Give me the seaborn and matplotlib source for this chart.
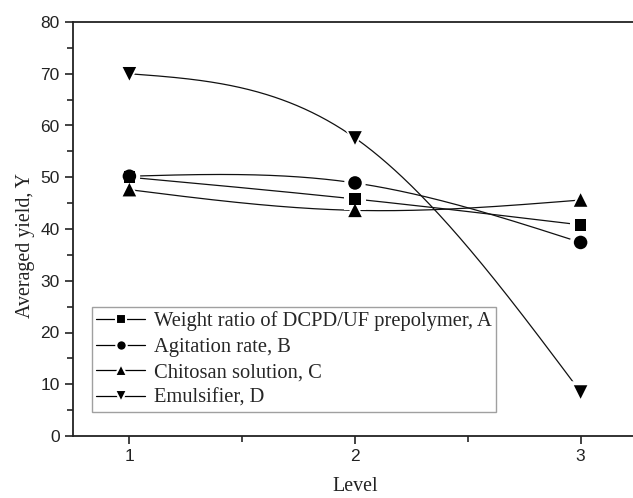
import numpy as np
import pandas as pd
import matplotlib
matplotlib.use("Agg")
import matplotlib.pyplot as plt
from matplotlib.lines import Line2D
import seaborn as sns

levels = [1, 2, 3]
series_names = ["Weight ratio of DCPD/UF prepolymer, A",
                "Agitation rate, B",
                "Chitosan solution, C",
                "Emulsifier, D"]
yield_A = [50.0, 45.8, 40.8]
yield_B = [50.2, 48.9, 37.4]
yield_C = [47.6, 43.6, 45.6]
yield_D = [70.0, 57.6, 8.5]
markers = ["s", "o", "^", "v"]


def natural_spline(x, y, xs):
    # natural cubic spline through the points (like Origin's spline connect)
    x = np.asarray(x, float)
    y = np.asarray(y, float)
    n = len(x)
    h = np.diff(x)
    A = np.zeros((n, n))
    r = np.zeros(n)
    A[0, 0] = A[-1, -1] = 1
    for i in range(1, n - 1):
        A[i, i - 1] = h[i - 1]
        A[i, i] = 2 * (h[i - 1] + h[i])
        A[i, i + 1] = h[i]
        r[i] = 6 * ((y[i + 1] - y[i]) / h[i] - (y[i] - y[i - 1]) / h[i - 1])
    M = np.linalg.solve(A, r)
    out = np.empty_like(xs)
    for k, xv in enumerate(xs):
        i = min(np.searchsorted(x, xv, side="right") - 1, n - 2)
        t = (xv - x[i]) / h[i]
        a, b = 1 - t, t
        out[k] = a * y[i] + b * y[i + 1] + ((a**3 - a) * M[i] + (b**3 - b) * M[i + 1]) * h[i]**2 / 6
    return out


sns.set_style("ticks")
plt.rcParams["font.family"] = ["Liberation Sans", "DejaVu Sans"]
serif = ["Liberation Serif", "DejaVu Serif"]

fig = plt.figure(figsize=(6.33, 4.98), dpi=100)
ax = fig.add_axes([73 / 633, 62 / 498, 564 / 633, 414 / 498])

all_y = [yield_A, yield_B, yield_C, yield_D]
xs = np.linspace(1, 3, 300)

for name, ys in zip(series_names, all_y):
    curve = pd.DataFrame({"x": xs, "y": natural_spline(levels, ys, xs)})
    sns.lineplot(data=curve, x="x", y="y", ax=ax, color="#111111", lw=0.9, zorder=2)

# white halo so the lines stop short of the symbols
for ys, m in zip(all_y, markers):
    pts = pd.DataFrame({"x": levels, "y": ys})
    sns.scatterplot(data=pts, x="x", y="y", ax=ax, marker=m, s=240,
                    color="white", edgecolor="none", zorder=3)
for ys, m in zip(all_y, markers):
    pts = pd.DataFrame({"x": levels, "y": ys})
    sz = 70 if m == "s" else 95
    sns.scatterplot(data=pts, x="x", y="y", ax=ax, marker=m, s=sz,
                    color="black", edgecolor="none", zorder=4)

ax.set_xlim(0.75, 3.25)
ax.set_ylim(0, 80)
ax.set_xticks([1, 2, 3])
ax.set_xticks([1.5, 2.5], minor=True)
ax.set_yticks(np.arange(0, 81, 10))
ax.set_yticks(np.arange(5, 80, 10), minor=True)
ax.tick_params(which="major", direction="out", length=6, width=1.2,
               labelsize=12.5, colors="#222222")
ax.tick_params(which="minor", direction="out", length=4, width=1.2)
for sp in ax.spines.values():
    sp.set_linewidth(1.3)
    sp.set_color("#222222")

ax.set_xlabel("Level", fontsize=14.4, family=serif, color="#222222", va="center")
ax.xaxis.set_label_coords(0.5 + 0.6 / 564, -0.122)
ax.set_ylabel("Averaged yield, Y", fontsize=14.4, family=serif, color="#222222",
              va="center")
ax.yaxis.set_label_coords(-0.085, 0.461)

msz = {"s": 6.5, "o": 7.5, "^": 8.5, "v": 8.5}
handles = [Line2D([0], [0], color="black", lw=0.9, marker=m, markersize=msz[m],
                  markerfacecolor="black", markeredgecolor="white",
                  markeredgewidth=1.5) for m in markers]
leg = ax.legend(handles, series_names, loc="lower left",
                bbox_to_anchor=(19 / 564, 24 / 414), prop={"family": serif, "size": 14.8},
                frameon=True, fancybox=False, edgecolor="#888888",
                handlelength=2.4, handletextpad=0.4, labelspacing=0.3,
                borderpad=0.2, borderaxespad=0)
leg.get_frame().set_linewidth(1.0)

fig.savefig("out.png", dpi=100)
